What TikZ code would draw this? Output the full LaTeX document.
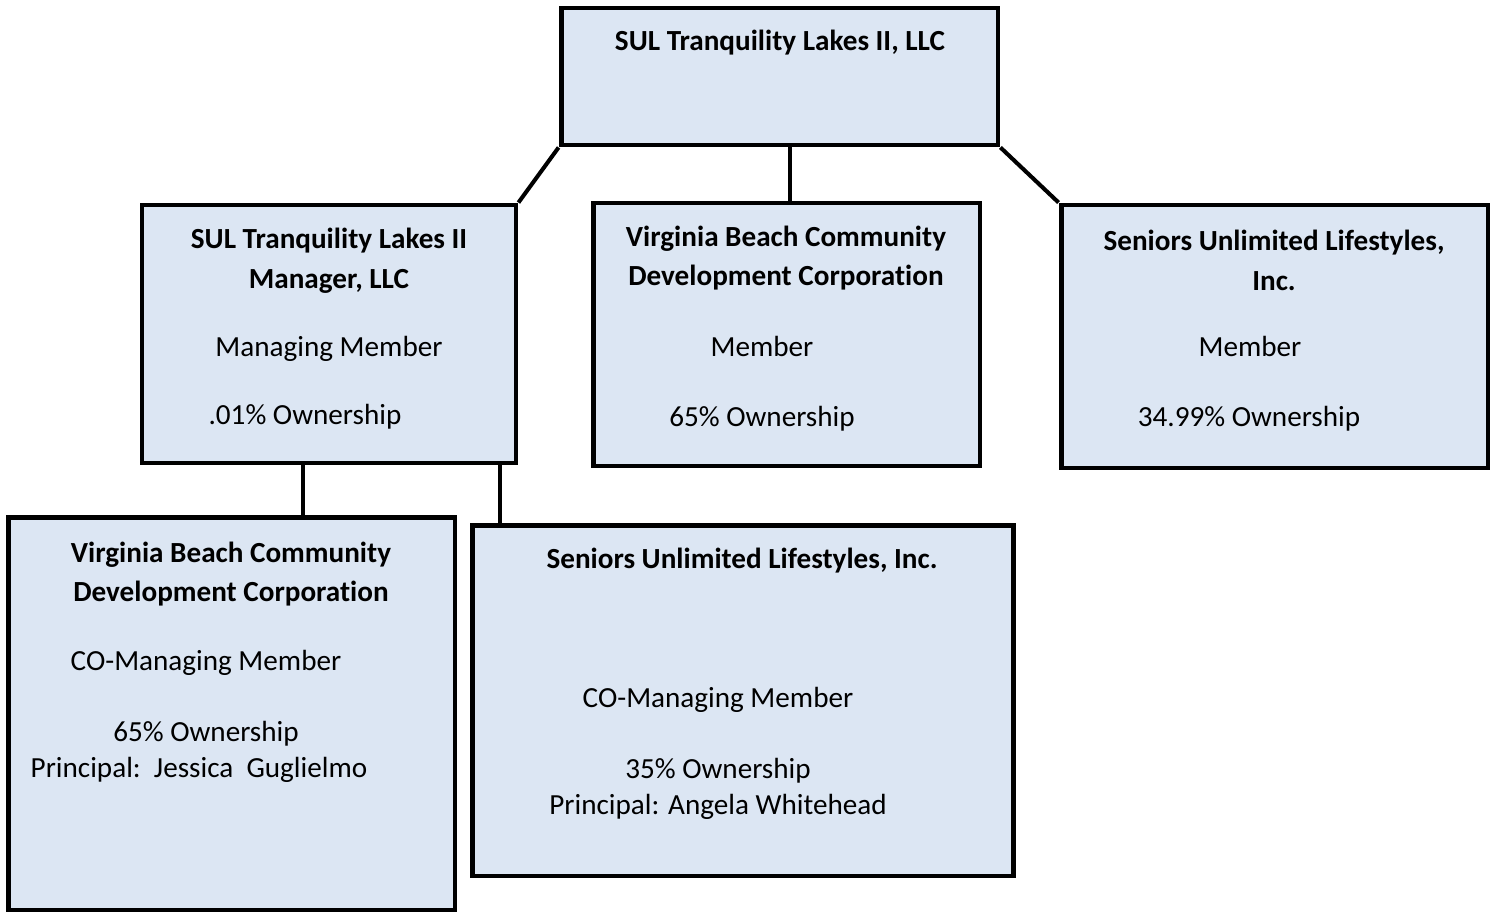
\documentclass[tikz,border=0pt]{standalone}
\usepackage{fontspec}
\setmainfont{Carlito}[Ligatures=NoCommon]
\usepackage{tikz}

\definecolor{boxblue}{HTML}{DCE6F3}
\tikzset{
  orgbox/.style={draw, fill=boxblue, line width=2.8pt, inner sep=0pt},
  orgtext/.style={inner sep=0pt, align=center, yshift=-0.05cm, font=\fontsize{16.6}{22.7}\selectfont},
  orgtitle/.style={orgtext, font=\fontsize{16.6}{22.7}\selectfont\bfseries},
  orglink/.style={line width=2.3pt}
}

\begin{document}
\begin{tikzpicture}[x=0.02cm,y=-0.02cm]
                    \useasboundingbox (0,0) rectangle (1494,913);

                    \node[orgbox, minimum width=8.74cm, minimum height=2.74cm] at (779.5,76.5) (top) {};
                    \node[orgbox, minimum width=7.48cm, minimum height=5.16cm] at (329,334) (mgr) {};
                    \node[orgbox, minimum width=7.74cm, minimum height=5.26cm] at (786.5,334.5) (vbm) {};
                    \node[orgbox, minimum width=8.54cm, minimum height=5.26cm] at (1274.5,336.5) (sul) {};
                    \node[orgbox, minimum width=8.94cm, minimum height=7.86cm] at (231.5,713.5) (vbc) {};
                    \node[orgbox, minimum width=10.84cm, minimum height=7.02cm] at (743,700.5) (suc) {};

                    \node[orgtitle] at (780,40) (topname) {SUL Tranquility Lakes II, LLC};

                    \node[orgtitle] at (329,258) (mgrname) {SUL Tranquility Lakes II\\Manager, LLC};
                    \node[orgtext] at (329,346) (mgrrole) {Managing Member};
                    \node[orgtext] at (305,414) (mgrshare) {.01\% Ownership};

                    \node[orgtitle] at (786,255.5) (vbmname) {Virginia Beach Community\\Development Corporation};
                    \node[orgtext] at (762,344) (vbmrole) {Member};
                    \node[orgtext] at (762,416) (vbmshare) {65\% Ownership};

                    \node[orgtitle] at (1274,257.5) (sulname) {Seniors Unlimited Lifestyles,\\Inc.};
                    \node[orgtext] at (1250,344) (sulrole) {Member};
                    \node[orgtext] at (1249,416) (sulshare) {34.99\% Ownership};

                    \node[orgtitle] at (231,571.5) (vbcname) {Virginia Beach Community\\Development Corporation};
                    \node[orgtext] at (206,660) (vbcrole) {CO-Managing Member};
                    \node[orgtext] at (206,731) (vbcshare) {65\% Ownership};
                    \node[orgtext] at (199,767) (vbchead) {Principal:\ \ Jessica\ \ Guglielmo};

                    \node[orgtitle] at (742,558) (sucname) {Seniors Unlimited Lifestyles, Inc.};
                    \node[orgtext] at (718,697) (sucrole) {CO-Managing Member};
                    \node[orgtext] at (718,768) (sucshare) {35\% Ownership};
                    \node[orgtext] at (718,804) (suchead) {Principal: Angela Whitehead};

                    \coordinate (topmid) at ([xshift=0.21cm]top.south);
                    \coordinate (mgrleft) at ([xshift=-0.52cm]mgr.south);
                    \coordinate (mgrright) at ([xshift=-0.36cm]mgr.south east);

                    \draw[orglink] (top.south west) -- (mgr.north east);
                    \draw[orglink] (topmid) -- (topmid |- vbm.north);
                    \draw[orglink] (top.south east) -- (sul.north west);
                    \draw[orglink] (mgrleft) -- (mgrleft |- vbc.north);
                    \draw[orglink] (mgrright) -- (mgrright |- suc.north);
                \end{tikzpicture}
\end{document}
